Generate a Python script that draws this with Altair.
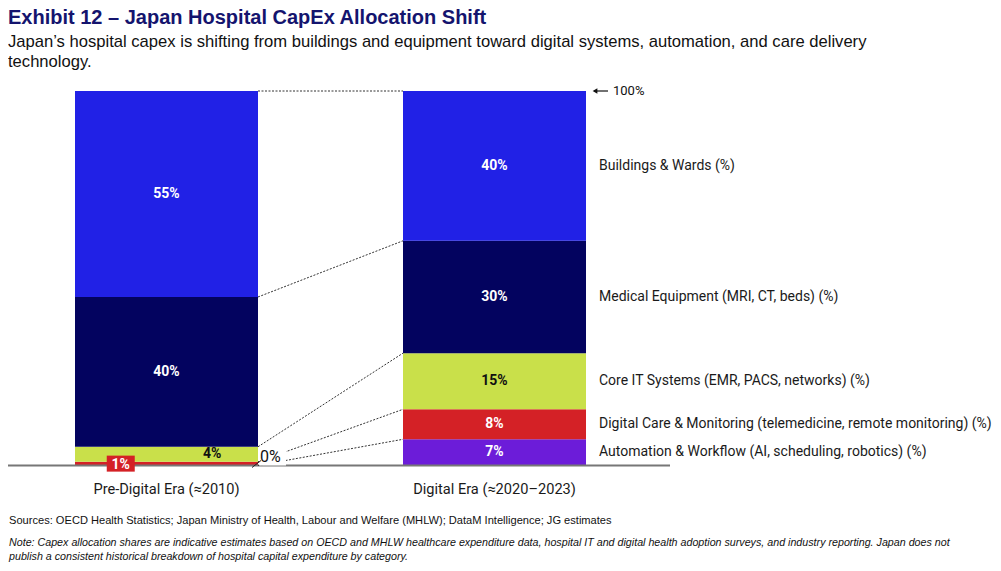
import altair as alt
import pandas as pd

# ---------------- data ----------------
periods = ["Pre-Digital Era (≈2010)", "Digital Era (≈2020–2023)"]
categories = [
    "Buildings & Wards (%)",
    "Medical Equipment (MRI, CT, beds) (%)",
    "Core IT Systems (EMR, PACS, networks) (%)",
    "Digital Care & Monitoring (telemedicine, remote monitoring) (%)",
    "Automation & Workflow (AI, scheduling, robotics) (%)",
]
pre_digital = [55, 40, 4, 1, 0]
digital_era = [40, 30, 15, 8, 7]
colors = ["#2121E6", "#03035F", "#C9E04A", "#D42126", "#6C1CD9"]
label_colors = ["#FFFFFF", "#FFFFFF", "#111111", "#FFFFFF", "#FFFFFF"]

title_text = "Exhibit 12 – Japan Hospital CapEx Allocation Shift"
subtitle_lines = [
    "Japan’s hospital capex is shifting from buildings and equipment toward digital systems, automation, and care delivery",
    "technology.",
]
sources_text = "Sources: OECD Health Statistics; Japan Ministry of Health, Labour and Welfare (MHLW); DataM Intelligence; JG estimates"
note_lines = [
    "Note: Capex allocation shares are indicative estimates based on OECD and MHLW healthcare expenditure data, hospital IT and digital health adoption surveys, and industry reporting. Japan does not",
    "publish a consistent historical breakdown of hospital capital expenditure by category.",
]

# ---------------- geometry ----------------
T = 80            # top of plot area on page
W = 985
H = 563 - T
PX_X = 183.0      # pixels per x unit (one bar width)
PX_Y = 3.745      # pixels per percentage point
BAR_W = 1.0
STEP = 328.0 / PX_X
X_MIN = -67.0 / PX_X
X_MAX = X_MIN + W / PX_X
Y_MAX = 100 + (91 - T) / PX_Y
Y_MIN = Y_MAX - H / PX_Y

xs = alt.Scale(domain=[X_MIN, X_MAX], nice=False, zero=False)
ys = alt.Scale(domain=[Y_MIN, Y_MAX], nice=False, zero=False)

series = [pre_digital, digital_era]
bar_rows, top_rows = [], []
for p, vals in enumerate(series):
    x0 = p * STEP
    cum = 0.0
    tops = {}
    for i in reversed(range(len(categories))):
        y0, y1 = cum, cum + vals[i]
        cum = y1
        tops[i] = y1
        bar_rows.append(dict(period=periods[p], cat=categories[i], x0=x0, x1=x0 + BAR_W,
                             y0=y0, y1=y1, mid=(y0 + y1) / 2, val=vals[i],
                             color=colors[i], lcolor=label_colors[i],
                             label=f"{vals[i]}%", p=p, i=i))
    top_rows.append(tops)
bars = pd.DataFrame(bar_rows)

conn = pd.DataFrame([
    dict(xa=BAR_W, xb=STEP, ya=top_rows[0][i], yb=top_rows[1][i])
    for i in range(len(categories))
])

# label placement
lab = bars.copy()
lab["lx"] = lab["x0"] + BAR_W / 2
sel_core_pre = (lab.p == 0) & (lab.i == 2)
sel_dc_pre = (lab.p == 0) & (lab.i == 3)
sel_auto_pre = (lab.p == 0) & (lab.i == 4)
lab.loc[sel_core_pre, "lx"] = lab.loc[sel_core_pre, "x0"] + 0.75 * BAR_W
lab.loc[sel_dc_pre, "lx"] = lab.loc[sel_dc_pre, "x0"] + 0.25 * BAR_W
normal = lab[~(sel_dc_pre | sel_auto_pre)]
boxed = lab[sel_dc_pre]
outside = lab[sel_auto_pre].copy()
outside["lx"] = BAR_W
outside["ly"] = 2.4

digital_df = bars[bars.p == 1]
period_df = pd.DataFrame(dict(period=periods, xc=[p * STEP + BAR_W / 2 for p in range(2)], y=[-6.6, -6.6]))

F = "Roboto, Inter, sans-serif"

base = alt.Chart(bars)

rects = base.mark_rect().encode(
    x=alt.X("x0:Q", scale=xs, axis=None), x2="x1:Q",
    y=alt.Y("y0:Q", scale=ys, axis=None), y2="y1:Q",
    color=alt.Color("color:N", scale=None),
)

baseline = alt.Chart(pd.DataFrame({"y": [0]})).mark_rule(color="#777777", strokeWidth=2).encode(
    y=alt.Y("y:Q", scale=ys), x=alt.value(0), x2=alt.value(662)
)

connectors = alt.Chart(conn).mark_rule(color="#333333", strokeWidth=1, strokeDash=[2, 1.5]).encode(
    x=alt.X("xa:Q", scale=xs), x2="xb:Q", y=alt.Y("ya:Q", scale=ys), y2="yb:Q"
)

labels = alt.Chart(normal).mark_text(font=F, fontSize=14, fontWeight="bold", baseline="middle").encode(
    x=alt.X("lx:Q", scale=xs), y=alt.Y("mid:Q", scale=ys), text="label:N",
    color=alt.Color("lcolor:N", scale=None),
)

box = alt.Chart(boxed).mark_rect(color=colors[3], xOffset=-14, x2Offset=14, yOffset=-8, y2Offset=8).encode(
    x=alt.X("lx:Q", scale=xs), x2="lx:Q", y=alt.Y("mid:Q", scale=ys), y2="mid:Q"
)
box_text = alt.Chart(boxed).mark_text(font=F, fontSize=14, fontWeight="bold", baseline="middle", color="#FFFFFF", dy=1).encode(
    x=alt.X("lx:Q", scale=xs), y=alt.Y("mid:Q", scale=ys), text="label:N"
)

out_bg = alt.Chart(outside).mark_rect(color="#FFFFFF", xOffset=1, x2Offset=28, yOffset=-9, y2Offset=9).encode(
    x=alt.X("lx:Q", scale=xs), x2="lx:Q", y=alt.Y("ly:Q", scale=ys), y2="ly:Q"
)
leader = alt.Chart(outside).mark_rule(color="#222222", strokeWidth=1, xOffset=-6, yOffset=11, x2Offset=3, y2Offset=4).encode(
    x=alt.X("lx:Q", scale=xs), x2="lx:Q", y=alt.Y("ly:Q", scale=ys), y2="ly:Q"
)
out_text = alt.Chart(outside).mark_text(font=F, fontSize=16, align="left", baseline="middle", color="#111111", dx=2).encode(
    x=alt.X("lx:Q", scale=xs), y=alt.Y("ly:Q", scale=ys), text="label:N"
)

cat_labels = alt.Chart(digital_df).mark_text(font=F, fontSize=14, align="left", baseline="middle", color="#1A1A1A", dx=13).encode(
    x=alt.X("x1:Q", scale=xs), y=alt.Y("mid:Q", scale=ys), text="cat:N"
)

period_labels = alt.Chart(period_df).mark_text(font=F, fontSize=14.6, baseline="middle", color="#1A1A1A").encode(
    x=alt.X("xc:Q", scale=xs), y=alt.Y("y:Q", scale=ys), text="period:N"
)

top_df = pd.DataFrame({"x": [STEP + BAR_W], "y": [100.0], "t": ["100%"]})
arrow_line = alt.Chart(top_df).mark_rule(color="#111111", strokeWidth=1.2, xOffset=8, x2Offset=22).encode(
    x=alt.X("x:Q", scale=xs), x2="x:Q", y=alt.Y("y:Q", scale=ys)
)
arrow_head = alt.Chart(top_df).mark_point(shape="triangle-left", filled=True, size=30, color="#111111", opacity=1, xOffset=9).encode(
    x=alt.X("x:Q", scale=xs), y=alt.Y("y:Q", scale=ys)
)
arrow_text = alt.Chart(top_df).mark_text(font=F, fontSize=13, align="left", baseline="middle", color="#111111", dx=27).encode(
    x=alt.X("x:Q", scale=xs), y=alt.Y("y:Q", scale=ys), text="t:N"
)

NF = "Liberation Sans, Arial, sans-serif"
src = alt.Chart(pd.DataFrame({"t": [sources_text]})).mark_text(
    font=NF, fontSize=11.1, align="left", baseline="middle", color="#111111"
).encode(x=alt.value(1), y=alt.value(521 - T), text="t:N")
note = alt.Chart(pd.DataFrame({"t": ["\n".join(note_lines)]})).mark_text(
    font=NF, fontSize=10.7, fontStyle="italic", align="left", baseline="middle", color="#111111",
    lineBreak="\n", lineHeight=14,
).encode(x=alt.value(1), y=alt.value(543 - T), text="t:N")

chart = alt.layer(
    rects, baseline, connectors, labels, box, box_text, out_bg, leader, out_text,
    cat_labels, period_labels, arrow_line, arrow_head, arrow_text, src, note,
).properties(
    width=W, height=H,
    title=alt.TitleParams(
        text=title_text, subtitle=subtitle_lines, anchor="start", frame="group",
        font="Liberation Sans, Arial, sans-serif", fontSize=20, fontWeight="bold", color="#14146E",
        subtitleFont="Liberation Sans, Arial, sans-serif", subtitleFontSize=16.6, subtitleColor="#111111",
        subtitlePadding=6, subtitleLineHeight=20, offset=9,
    ),
    padding={"left": 0, "top": T - 8, "right": 0, "bottom": 0},
    autosize=alt.AutoSizeParams(type="none"),
).configure_view(stroke=None)

chart.save("out.html", embed_options={"renderer": "svg", "actions": False})
